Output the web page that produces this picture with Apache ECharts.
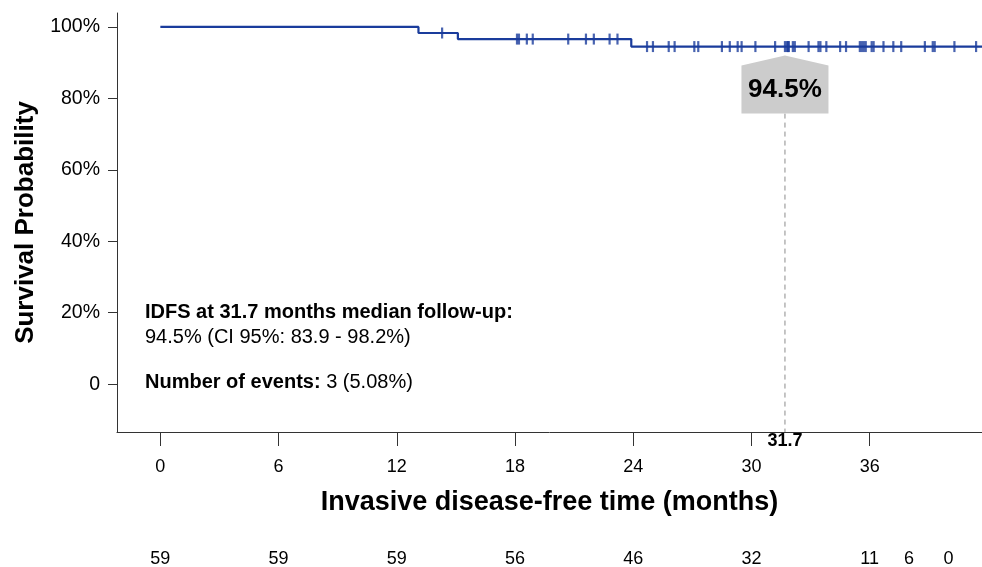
<!DOCTYPE html>
<html>
<head>
<meta charset="utf-8">
<script src="https://cdn.jsdelivr.net/npm/echarts@6/dist/echarts.min.js"></script>
<style>
  html, body { margin: 0; padding: 0; background: #fff; }
  #main { width: 982px; height: 567px; }
</style>
</head>
<body>
<div id="main"></div>
<script>
// KM curve: start point, event times and the survival after each step
var stepTimes = [0, 13.1, 15.1, 23.9];
var stepSurv = [100, 98.3, 96.6, 94.5];
var curveEnd = 41.7;

// censored patients (tick marks on the curve)
var censorTimes = [14.3, 18.1, 18.2, 18.6, 18.9, 20.7, 21.6, 22.0, 22.8, 23.2,
  24.7, 25.0, 25.8, 26.1, 27.1, 27.3, 28.5, 28.9, 29.3, 29.5, 30.2, 31.2,
  31.7, 31.8, 31.85, 31.9, 32.1, 32.2, 32.9, 33.4, 33.5, 33.8, 34.5, 34.8,
  35.5, 35.6, 35.7, 35.8, 36.1, 36.2, 36.7, 37.2, 37.6, 38.8, 39.2, 39.3,
  40.3, 41.4];

// x ticks and number at risk table
var xTicks = [0, 6, 12, 18, 24, 30, 36];
var yTicks = [0, 20, 40, 60, 80, 100];
var riskTimes = [0, 6, 12, 18, 24, 30, 36, 38, 40];
var riskCounts = [59, 59, 59, 56, 46, 32, 11, 6, 0];

// median follow-up annotation
var medianFU = 31.7;
var survAtFU = 94.5;

var xMin = -2.2, xMax = 41.7;
var yMin = -13.4, yMax = 103.9;
var blue = '#1a3c9c';
var font = 'Liberation Sans, Arial, Helvetica, sans-serif';

function survivalAt(t) {
  var s = stepSurv[0];
  for (var i = 0; i < stepTimes.length; i++) {
    if (stepTimes[i] <= t) s = stepSurv[i];
  }
  return s;
}

var curveData = stepTimes.map(function (t, i) { return [t, stepSurv[i]]; });
curveData.push([curveEnd, stepSurv[stepSurv.length - 1]]);
var censorData = censorTimes.map(function (t) { return [t, survivalAt(t)]; });
var riskData = riskTimes.map(function (t, i) { return [t, 0.5, riskCounts[i]]; });

var chart = echarts.init(document.getElementById('main'), null, { renderer: 'canvas' });

var option = {
  animation: false,
  backgroundColor: '#fff',
  textStyle: { fontFamily: font },
  grid: [
    { left: 117, right: 0, top: 13, bottom: 135 },
    { left: 117, right: 0, top: 540, height: 34 }
  ],
  xAxis: [{
    type: 'value', gridIndex: 0, min: xMin, max: xMax,
    name: 'Invasive disease-free time (months)',
    nameLocation: 'middle', nameGap: 57,
    nameTextStyle: { fontSize: 27, fontWeight: 'bold', color: '#000', fontFamily: font },
    splitLine: { show: false },
    axisLine: { show: true, onZero: false, lineStyle: { color: '#333', width: 1 } },
    axisTick: { show: true, length: 14, customValues: xTicks, lineStyle: { color: '#333' } },
    axisLabel: { customValues: xTicks, margin: 26, fontSize: 18, color: '#000', fontFamily: font }
  }, {
    type: 'value', gridIndex: 1, min: xMin, max: xMax, show: false
  }],
  yAxis: [{
    type: 'value', gridIndex: 0, min: yMin, max: yMax,
    name: 'Survival Probability',
    nameLocation: 'middle', nameGap: 76, nameRotate: 90,
    nameTextStyle: { fontSize: 26, fontWeight: 'bold', color: '#000', fontFamily: font },
    splitLine: { show: false },
    axisLine: { show: true, onZero: false, lineStyle: { color: '#333', width: 1 } },
    axisTick: { show: true, length: 9, customValues: yTicks, lineStyle: { color: '#333' } },
    axisLabel: {
      customValues: yTicks, margin: 17, fontSize: 19.5, color: '#000', fontFamily: font,
      formatter: function (v) { return v === 0 ? '0' : v + '%'; }
    }
  }, {
    type: 'value', gridIndex: 1, min: 0, max: 1, show: false
  }],
  graphic: [{
    type: 'text', left: 145, top: 302,
    style: { text: 'IDFS at 31.7 months median follow-up:', font: 'bold 20px ' + font, fill: '#000' }
  }, {
    type: 'text', left: 145, top: 327,
    style: { text: '94.5% (CI 95%: 83.9 - 98.2%)', font: '20px ' + font, fill: '#000' }
  }, {
    type: 'text', left: 145, top: 372,
    style: {
      text: '{b|Number of events:} 3 (5.08%)', font: '20px ' + font, fill: '#000',
      rich: { b: { fontWeight: 'bold', fontSize: 20, fontFamily: font, fill: '#000' } }
    }
  }],
  series: [{
    type: 'line', xAxisIndex: 0, yAxisIndex: 0,
    step: 'end', data: curveData, symbol: 'none',
    lineStyle: { color: blue, width: 2.2 }, z: 3
  }, {
    type: 'scatter', xAxisIndex: 0, yAxisIndex: 0,
    data: censorData, symbol: 'rect', symbolSize: [2.2, 11],
    itemStyle: { color: blue }, z: 4
  }, {
    type: 'custom', xAxisIndex: 0, yAxisIndex: 0, clip: false, z: 5,
    data: [[medianFU, survAtFU]],
    renderItem: function (params, api) {
      var p = api.coord([api.value(0), api.value(1)]);
      var base = api.coord([api.value(0), yMin]);
      var x = p[0], y = p[1];
      var hw = 43.5;
      return {
        type: 'group',
        children: [{
          type: 'line',
          shape: { x1: x, y1: y + 67, x2: x, y2: base[1] },
          style: { stroke: '#8c8c8c', lineWidth: 1, lineDash: [5, 4] }
        }, {
          type: 'polygon',
          shape: { points: [[x, y + 9], [x + hw, y + 19], [x + hw, y + 67], [x - hw, y + 67], [x - hw, y + 19]] },
          style: { fill: '#cccccc' }
        }, {
          type: 'text',
          style: {
            text: survAtFU.toFixed(1) + '%', x: x, y: y + 43,
            align: 'center', verticalAlign: 'middle',
            font: 'bold 26px ' + font, fill: '#000'
          }
        }, {
          type: 'text',
          style: {
            text: String(medianFU), x: x, y: base[1] + 9,
            align: 'center', verticalAlign: 'middle',
            font: 'bold 18px ' + font, fill: '#000'
          }
        }]
      };
    }
  }, {
    type: 'custom', xAxisIndex: 1, yAxisIndex: 1, clip: false,
    data: riskData,
    renderItem: function (params, api) {
      var p = api.coord([api.value(0), api.value(1)]);
      return {
        type: 'text',
        style: {
          text: String(api.value(2)), x: p[0], y: p[1] + 6,
          align: 'center', verticalAlign: 'middle',
          font: '18px ' + font, fill: '#000'
        }
      };
    }
  }]
};

chart.setOption(option);
</script>
</body>
</html>
